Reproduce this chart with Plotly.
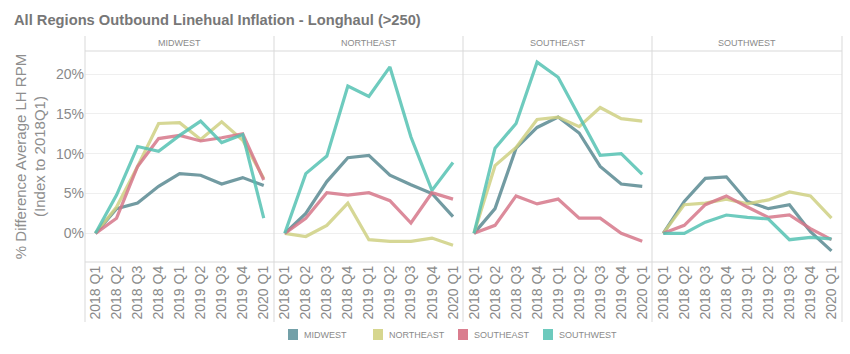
import plotly.graph_objects as go
from plotly.subplots import make_subplots

quarters = ["2018 Q1", "2018 Q2", "2018 Q3", "2018 Q4", "2019 Q1",
            "2019 Q2", "2019 Q3", "2019 Q4", "2020 Q1"]
panels = ["MIDWEST", "NORTHEAST", "SOUTHEAST", "SOUTHWEST"]
series_names = ["MIDWEST", "NORTHEAST", "SOUTHEAST", "SOUTHWEST"]

# values in % (panel = origin region, series = line)
midwest_panel = {
    "MIDWEST":   [0, 3.1, 3.8, 5.9, 7.5, 7.3, 6.2, 7.0, 6.0],
    "NORTHEAST": [0, 3.3, 8.4, 13.8, 13.9, 11.8, 14.0, 11.7, 6.9],
    "SOUTHEAST": [0, 1.9, 8.4, 11.9, 12.3, 11.6, 12.0, 12.5, 6.7],
    "SOUTHWEST": [0, 4.8, 10.9, 10.3, 12.3, 14.1, 11.4, 12.4, 1.9],
}
northeast_panel = {
    "MIDWEST":   [0, 2.5, 6.5, 9.5, 9.8, 7.3, 6.1, 5.0, 2.1],
    "NORTHEAST": [0, -0.4, 1.0, 3.8, -0.8, -1.0, -1.0, -0.6, -1.5],
    "SOUTHEAST": [0, 1.9, 5.1, 4.8, 5.1, 4.1, 1.3, 5.1, 4.3],
    "SOUTHWEST": [0, 7.5, 9.7, 18.5, 17.2, 20.9, 12.1, 5.4, 8.9],
}
southeast_panel = {
    "MIDWEST":   [0, 3.1, 10.7, 13.3, 14.6, 12.6, 8.4, 6.2, 5.9],
    "NORTHEAST": [0, 8.5, 10.8, 14.3, 14.6, 13.4, 15.8, 14.4, 14.1],
    "SOUTHEAST": [0, 1.0, 4.7, 3.7, 4.3, 1.9, 1.9, 0.0, -1.0],
    "SOUTHWEST": [0, 10.7, 13.8, 21.5, 19.6, 14.6, 9.8, 10.0, 7.4],
}
southwest_panel = {
    "MIDWEST":   [0, 4.0, 6.9, 7.1, 4.0, 3.1, 3.6, 0.2, -2.2],
    "NORTHEAST": [0, 3.6, 3.8, 4.3, 3.7, 4.2, 5.2, 4.7, 1.9],
    "SOUTHEAST": [0, 1.0, 3.6, 4.7, 3.3, 2.0, 2.3, 0.6, -0.8],
    "SOUTHWEST": [0, 0.0, 1.4, 2.3, 2.0, 1.8, -0.8, -0.5, -0.7],
}
panel_data = [midwest_panel, northeast_panel, southeast_panel, southwest_panel]

colors = {"MIDWEST": "#5a8a92", "NORTHEAST": "#cfd183",
          "SOUTHEAST": "#d6778a", "SOUTHWEST": "#55c2b3"}
legend_colors = {"MIDWEST": "#73a0a8", "NORTHEAST": "#d6d68e",
                 "SOUTHEAST": "#da7d8e", "SOUTHWEST": "#6dcabd"}

W, H = 850, 354
L, R, T, B = 85, 842, 51, 262

fig = make_subplots(rows=1, cols=4, shared_yaxes=True, horizontal_spacing=0)

xs = list(range(len(quarters)))
for c, pdata in enumerate(panel_data, start=1):
    for s in series_names:
        fig.add_trace(go.Scatter(
            x=xs, y=[v / 100 for v in pdata[s]], mode="lines", name=s,
            line=dict(color=colors[s], width=3.2), opacity=0.85,
            showlegend=False, hoverinfo="skip"), row=1, col=c)
    fig.update_xaxes(range=[-0.5, 8.5], tickvals=xs, ticktext=quarters,
                     tickangle=-90, tickfont=dict(family="Arial", size=14, color="#8a8a8a"),
                     showgrid=False, zeroline=False, showline=False, ticks="",
                     row=1, col=c)

fig.update_yaxes(range=[-0.036, 0.229], tickvals=[0, 0.05, 0.10, 0.15, 0.20],
                 tickformat=".0%", showgrid=True, gridcolor="#efefef",
                 zeroline=False, showline=False, ticks="",
                 tickfont=dict(family="Arial", size=14, color="#8a8a8a"))
fig.update_yaxes(title=dict(text="% Difference Average LH RPM<br>(Index to 2018Q1)",
                            font=dict(family="Arial", size=15, color="#8e8e8e"),
                            standoff=6), row=1, col=1)

def px_x(px):
    return (px - L) / (R - L)

def px_y(py):
    return (B - py) / (B - T)

line_style = dict(color="#d9d9d9", width=1)
bounds = [85, 274, 463, 652, 842]
for bx in bounds:
    fig.add_shape(type="line", xref="paper", yref="paper",
                  x0=px_x(bx), x1=px_x(bx), y0=px_y(36), y1=px_y(322),
                  line=line_style)
for by in [51, 262]:
    fig.add_shape(type="line", xref="paper", yref="paper",
                  x0=0, x1=1, y0=px_y(by), y1=px_y(by), line=line_style)

for i, name in enumerate(panels):
    cx = (bounds[i] + bounds[i + 1]) / 2
    fig.add_annotation(text=name, xref="paper", yref="paper",
                       x=px_x(cx), y=px_y(43), showarrow=False,
                       xanchor="center", yanchor="middle",
                       font=dict(family="Arial", size=9, color="#8a8a8a"))

# legend drawn as squares + labels
legend_x = [288, 373, 458, 543]
for s, lx in zip(series_names, legend_x):
    fig.add_shape(type="rect", xref="paper", yref="paper",
                  x0=px_x(lx), x1=px_x(lx + 10), y0=px_y(329), y1=px_y(340),
                  fillcolor=legend_colors[s], line=dict(width=0))
    fig.add_annotation(text=s, xref="paper", yref="paper",
                       x=px_x(lx + 14), y=px_y(334.5), showarrow=False,
                       xanchor="left", yanchor="middle",
                       font=dict(family="Arial", size=9, color="#8a8a8a"))

fig.add_annotation(text="<b>All Regions Outbound Linehual Inflation - Longhaul (>250)</b>",
                   xref="paper", yref="paper", x=px_x(12), y=px_y(20),
                   xanchor="left", yanchor="middle", showarrow=False,
                   font=dict(family="Arial", size=14.7, color="#777777"))

fig.update_layout(
    width=W, height=H,
    margin=dict(l=L, r=W - R, t=T, b=H - B),
    plot_bgcolor="white", paper_bgcolor="white",
    showlegend=False,
)

fig.write_html("out.html")
